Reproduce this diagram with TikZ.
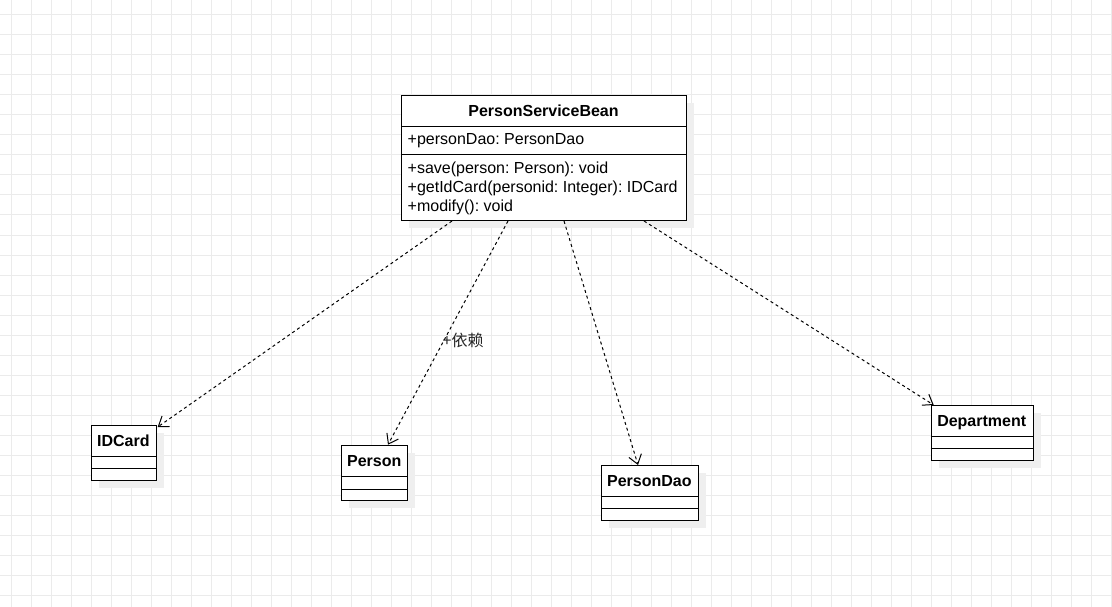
\documentclass[tikz,border=0pt]{standalone}
\usepackage{fontspec}
\setmainfont{Liberation Sans}
\newfontfamily\cjkfont{Noto Sans CJK SC}
\usetikzlibrary{arrows.meta,calc}
\definecolor{gridc}{HTML}{EBEBEB}
\definecolor{shadowc}{HTML}{EFEFEF}
\frenchspacing
\begin{document}
\begin{tikzpicture}[x=1pt,y=-1pt,
  cls/.style={draw=black,line width=1pt,fill=white,rectangle,inner sep=0pt,anchor=north west},
  divider/.style={draw=black,line width=1pt},
  shade/.style={fill=shadowc},
  ttl/.style={font=\fontsize{16}{19}\selectfont\bfseries,inner sep=0pt,anchor=base},
  mem/.style={font=\fontsize{16}{19}\selectfont\frenchspacing,inner sep=0pt,anchor=base west},
  dep/.style={draw=black,line width=1pt,dash pattern=on 3pt off 3pt,
    -{Straight Barb[length=9pt,width=13pt,line width=1pt]}},
  lbl/.style={font=\fontsize{16}{19}\selectfont\cjkfont,text=black!85,inner sep=0pt,anchor=west}]
\useasboundingbox (0,0) rectangle (1112,607);
\fill[white] (0,0) rectangle (1112,607);
\foreach \x in {11.5,31.5,...,1111.5} \draw[gridc,line width=1pt] (\x,0) -- (\x,607);
\foreach \y in {15,35,...,605} \draw[gridc,line width=1pt] (0,\y) -- (1112,\y);

% shadows
\fill[shade] (409,103.5) rectangle ++(285,124.5);
\fill[shade] (99,433) rectangle ++(64.7,55);
\fill[shade] (349,452.7) rectangle ++(66.3,55.3);
\fill[shade] (609,473) rectangle ++(96.7,55);
\fill[shade] (938.7,413) rectangle ++(102,55);

% main class
\node[cls,minimum width=285pt,minimum height=124.5pt] (psb) at (401,95.5) {};
\draw[divider] ([yshift=-31.2pt]psb.north west) -- ([yshift=-31.2pt]psb.north east);
\draw[divider] ([yshift=-59.5pt]psb.north west) -- ([yshift=-59.5pt]psb.north east);
\node[ttl] (psbt) at (543.5,116.6) {PersonServiceBean};
\node[mem] (a1) at (407.5,144.3) {+personDao: PersonDao};
\node[mem] (m1) at (407.5,173.5) {+save(person: Person): void};
\node[mem] (m2) at (407.5,192.5) {+getIdCard(personid: Integer): IDCard};
\node[mem] (m3) at (407.5,211.3) {+modify(): void};

% IDCard
\node[cls,minimum width=64.7pt,minimum height=55pt] (idcard) at (91,425) {};
\draw[divider] ([yshift=-31.7pt]idcard.north west) -- ([yshift=-31.7pt]idcard.north east);
\draw[divider] ([yshift=-43.3pt]idcard.north west) -- ([yshift=-43.3pt]idcard.north east);
\node[ttl] (idcardt) at (123.4,446.7) {IDCard};

% Person
\node[cls,minimum width=66.3pt,minimum height=55.3pt] (person) at (341,444.7) {};
\draw[divider] ([yshift=-31.6pt]person.north west) -- ([yshift=-31.6pt]person.north east);
\draw[divider] ([yshift=-44.3pt]person.north west) -- ([yshift=-44.3pt]person.north east);
\node[ttl] (persont) at (374.2,466.3) {Person};

% PersonDao
\node[cls,minimum width=96.7pt,minimum height=55pt] (persondao) at (601,465) {};
\draw[divider] ([yshift=-31pt]persondao.north west) -- ([yshift=-31pt]persondao.north east);
\draw[divider] ([yshift=-43.7pt]persondao.north west) -- ([yshift=-43.7pt]persondao.north east);
\node[ttl] (persondaot) at (649.4,486.3) {PersonDao};

% Department
\node[cls,minimum width=102pt,minimum height=55pt] (department) at (930.7,405) {};
\draw[divider] ([yshift=-31.7pt]department.north west) -- ([yshift=-31.7pt]department.north east);
\draw[divider] ([yshift=-43.3pt]department.north west) -- ([yshift=-43.3pt]department.north east);
\node[ttl] (departmentt) at (981.7,426.6) {Department};

% dependencies
\draw[dep] ([xshift=51pt]psb.south west) -- ([xshift=1pt,yshift=-2pt]idcard.north east);
\draw[dep] ([xshift=107pt]psb.south west) -- ([xshift=47pt]person.north west);
\draw[dep] ([xshift=163pt]psb.south west) -- ([xshift=37pt]persondao.north west);
\draw[dep] ([xshift=243pt]psb.south west) -- ([xshift=3pt]department.north west);

\node[lbl] (deplbl) at (442.5,340.5) {+依赖};
\end{tikzpicture}
\end{document}
